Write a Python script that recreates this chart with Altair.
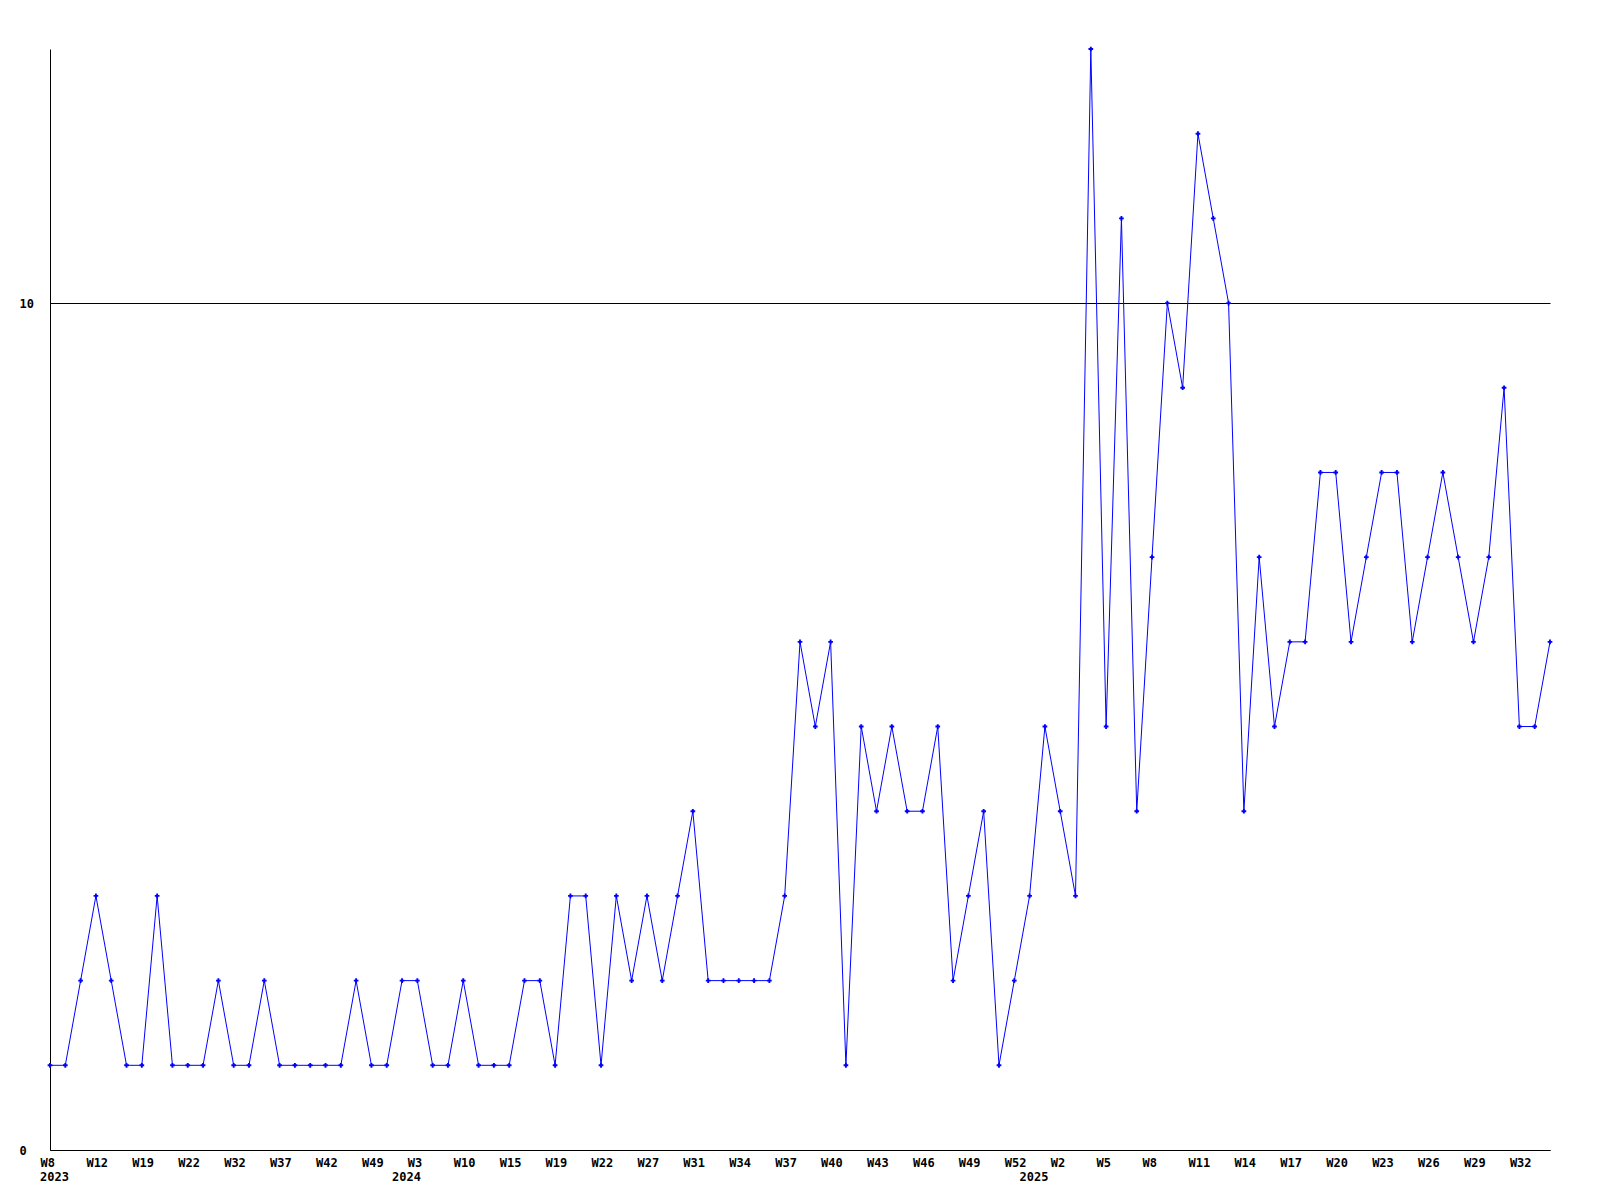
import altair as alt
import pandas as pd

values = [1, 1, 2, 3, 2, 1, 1, 3, 1, 1,
          1, 2, 1, 1, 2, 1, 1, 1, 1, 1,
          2, 1, 1, 2, 2, 1, 1, 2, 1, 1,
          1, 2, 2, 1, 3, 3, 1, 3, 2, 3,
          2, 3, 4, 2, 2, 2, 2, 2, 3, 6,
          5, 6, 1, 5, 4, 5, 4, 4, 5, 2,
          3, 4, 1, 2, 3, 5, 4, 3, 13, 5,
          11, 4, 7, 10, 9, 12, 11, 10, 4, 7,
          5, 6, 6, 8, 8, 6, 7, 8, 8, 6,
          7, 8, 7, 6, 7, 9, 5, 5, 6]

tick_labels = ["W8", "W12", "W19", "W22", "W32", "W37", "W42", "W49", "W3",
               "W10", "W15", "W19", "W22", "W27", "W31", "W34", "W37", "W40",
               "W43", "W46", "W49", "W52", "W2", "W5", "W8", "W11", "W14",
               "W17", "W20", "W23", "W26", "W29", "W32"]

years = ["2023", "2024", "2025"]
year_index = [0, 23, 64]

W, H = 1500, 1101
FONT = "DejaVu Sans Mono"
FS = 12

df = pd.DataFrame({"i": list(range(len(values))), "v": values})
ydf = pd.DataFrame({"i": year_index, "year": years})

tick_vals = [3 * k for k in range(len(tick_labels))]
label_arr = "[" + ",".join("'" + t + "'" for t in tick_labels) + "]"

xscale = alt.Scale(domain=[0, len(values) - 1], nice=False, zero=False)
yscale = alt.Scale(domain=[0, 13], nice=False)

xaxis = alt.Axis(values=tick_vals, labelExpr=label_arr + "[round(datum.value/3)]",
                 title=None, grid=False, ticks=False, tickSize=0,
                 labelAlign="left", labelOffset=-10, labelBaseline="middle",
                 labelPadding=12, labelFont=FONT, labelFontSize=FS,
                 labelFontWeight="bold", labelColor="black", labelFlush=False,
                 labelOverlap=False, domainColor="black", domainWidth=1)
yaxis = alt.Axis(values=[0, 10], title=None, grid=True, gridColor="black",
                 gridOpacity=1, gridWidth=1, ticks=False, tickSize=0,
                 labelAlign="left", labelPadding=31, labelBaseline="middle",
                 labelFont=FONT, labelFontSize=FS, labelFontWeight="bold",
                 labelColor="black", domainColor="black", domainWidth=1)

base = alt.Chart(df).encode(
    x=alt.X("i:Q", scale=xscale, axis=xaxis),
    y=alt.Y("v:Q", scale=yscale, axis=yaxis),
)
line = base.mark_line(color="#0000FF", strokeWidth=1, clip=False)
pts = base.mark_point(shape="cross", size=22, filled=True, color="#0000FF", opacity=1)

yr = alt.Chart(ydf).mark_text(align="left", baseline="middle", dx=-10,
                              font=FONT, fontSize=FS, fontWeight="bold",
                              color="black").encode(
    x=alt.X("i:Q", scale=xscale),
    y=alt.value(H + 27),
    text="year:N",
)

chart = alt.layer(line, pts, yr).properties(
    width=W, height=H,
    autosize=alt.AutoSizeParams(type="none"),
    padding={"left": 42, "top": 41, "right": 30, "bottom": 40},
    background="white",
).configure_view(stroke=None)

chart.save("out.html", embed_options={"renderer": "svg", "actions": False})
